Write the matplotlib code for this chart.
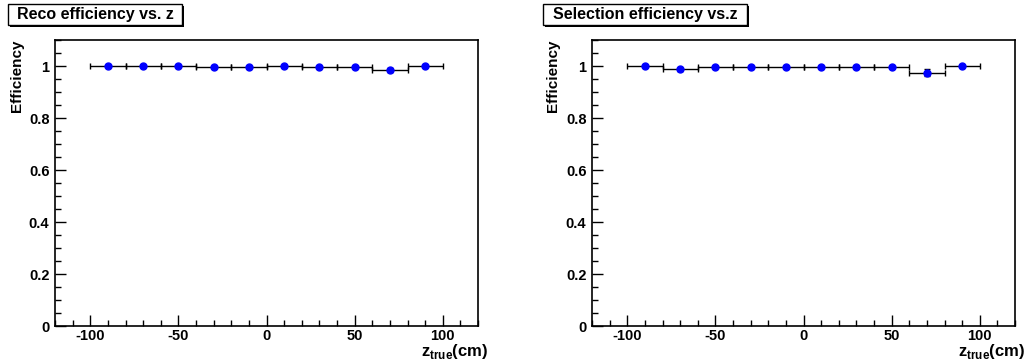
import matplotlib
matplotlib.use("Agg")
import matplotlib.pyplot as plt
from matplotlib.ticker import MultipleLocator, FixedLocator
import numpy as np

z_centers = [-90, -70, -50, -30, -10, 10, 30, 50, 70, 90]
bin_half_width = [10] * 10
reco_eff = [1.0, 1.0, 1.0, 0.998, 0.998, 0.999, 0.998, 0.998, 0.985, 1.0]
reco_err = [0.001, 0.001, 0.001, 0.002, 0.002, 0.001, 0.002, 0.002, 0.009, 0.001]
sel_eff = [1.0, 0.988, 0.996, 0.998, 0.997, 0.997, 0.997, 0.995, 0.974, 1.0]
sel_err = [0.001, 0.006, 0.003, 0.002, 0.002, 0.002, 0.002, 0.003, 0.013, 0.001]
titles = ["Reco efficiency vs. z", "Selection efficiency vs.z"]
xticks = [-100, -50, 0, 50, 100]
yticks = [0, 0.2, 0.4, 0.6, 0.8, 1]

plt.rcParams['font.family'] = ['Liberation Sans', 'DejaVu Sans']
plt.rcParams['font.weight'] = 'bold'
plt.rcParams['mathtext.fontset'] = 'custom'
plt.rcParams['mathtext.bf'] = 'Liberation Sans:bold'
plt.rcParams['mathtext.rm'] = 'Liberation Sans:bold'

fig = plt.figure(figsize=(10.24, 3.61), dpi=100)
W, H = 1024, 361
axes_px = [(55, 40, 478, 326), (592, 40, 1015, 326)]
title_px = [(8, 4, 182, 25), (543, 4, 747, 25)]
ylab_x = [17, 553]
series = [(reco_eff, reco_err), (sel_eff, sel_err)]

for i in range(2):
    l, t, r, b = axes_px[i]
    ax = fig.add_axes([l / W, 1 - b / H, (r - l) / W, (b - t) / H])
    eff, err = series[i]
    ax.errorbar(z_centers, eff, xerr=bin_half_width, yerr=err, fmt='none',
                ecolor='black', elinewidth=1.0, capsize=2, capthick=1.0, zorder=2)
    ax.plot(z_centers, eff, 'o', color='#0000ff', markersize=5, zorder=3)
    ax.set_xlim(-120, 120)
    ax.set_ylim(0, 1.1)
    ax.xaxis.set_major_locator(FixedLocator(xticks))
    ax.xaxis.set_minor_locator(MultipleLocator(10))
    ax.yaxis.set_major_locator(FixedLocator(yticks))
    ax.yaxis.set_minor_locator(MultipleLocator(0.05))
    ax.set_xticklabels([str(v) for v in xticks])
    ax.set_yticklabels(['0', '0.2', '0.4', '0.6', '0.8', '1'])
    ax.tick_params(which='both', direction='in', top=False, right=False, width=1.0,
                   labelsize=10.5)
    ax.tick_params(axis='x', pad=2)
    ax.tick_params(axis='y', pad=4)
    ax.tick_params(which='major', length=8)
    ax.tick_params(which='minor', length=4)
    for lab in ax.get_xticklabels() + ax.get_yticklabels():
        lab.set_fontweight('bold')
    for s in ax.spines.values():
        s.set_linewidth(1.2)
    fig.text(ylab_x[i] / W, 1 - t / H, 'Efficiency', rotation=90, ha='center', va='top',
             fontsize=11, fontweight='bold')
    fig.text((r + 10) / W, 1 - 342 / H, r'$\mathbf{z}_{\mathbf{true}}$(cm)',
             ha='right', va='top', fontsize=12, fontweight='bold')
    # title box
    tl, tt, tr, tb = title_px[i]
    fig.text((tl + tr) / 2 / W, 1 - (tt + tb) / 2 / H, titles[i], ha='center', va='center',
             fontsize=11.5, fontweight='bold')
    rect = plt.Rectangle((tl / W, 1 - tb / H), (tr - tl) / W, (tb - tt) / H,
                         transform=fig.transFigure, fill=False, edgecolor='black', lw=1.0)
    fig.patches.append(rect)
    shadow = plt.Rectangle(((tl + 2) / W, 1 - (tb + 2) / H), (tr - tl) / W, 2 / H,
                           transform=fig.transFigure, facecolor='black', edgecolor='none')
    fig.patches.append(shadow)
    shadow2 = plt.Rectangle((tr / W, 1 - (tb + 2) / H), 2 / W, (tb - tt) / H,
                            transform=fig.transFigure, facecolor='black', edgecolor='none')
    fig.patches.append(shadow2)

fig.savefig('out.png', dpi=100)
